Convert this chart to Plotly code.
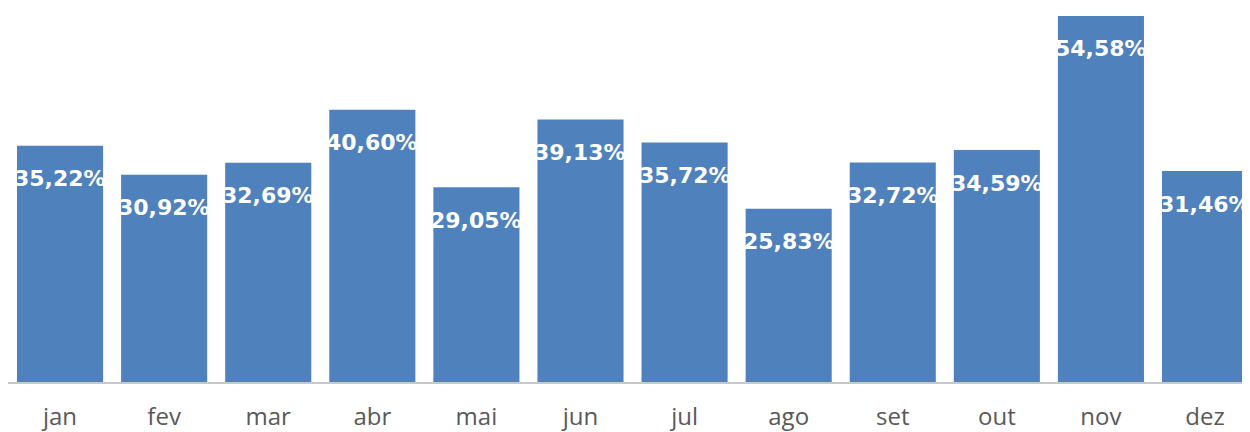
import plotly.graph_objects as go

# Dados
meses = ['jan', 'fev', 'mar', 'abr', 'mai', 'jun', 'jul', 'ago', 'set', 'out', 'nov', 'dez']
percentuais = [35.22, 30.92, 32.69, 40.60, 29.05, 39.13, 35.72, 25.83, 32.72, 34.59, 54.58, 31.46]

rotulos = [f"{v:.2f}".replace('.', ',') + '%' for v in percentuais]

fig = go.Figure()
fig.add_trace(go.Bar(
    x=meses,
    y=percentuais,
    marker=dict(color='#4F81BD', line=dict(width=0)),
    hoverinfo='skip',
))

# rótulos dentro das barras, perto do topo
for m, v, r in zip(meses, percentuais, rotulos):
    fig.add_annotation(
        x=m, y=v, text=r, showarrow=False,
        yanchor='middle', yshift=-33,
        font=dict(family='DejaVu Sans', size=22, color='white', weight='bold'),
    )

# a página tem 8px de margem no body -> figura um pouco menor
fig.update_layout(
    width=1242, height=424,
    margin=dict(l=0, r=0, t=0, b=50),
    paper_bgcolor='white', plot_bgcolor='white',
    bargap=0.173,
    showlegend=False,
)
fig.update_xaxes(
    range=[-0.5, 11.432],
    automargin=False,
    showline=True, linecolor='#c8c8c8', linewidth=1.5,
    showgrid=False, ticks='', ticklabelstandoff=12,
    tickfont=dict(family='Open Sans', size=24, color='#595959'),
)
fig.update_yaxes(range=[0, 55.77], visible=False, automargin=False)

fig.write_html("out.html")
